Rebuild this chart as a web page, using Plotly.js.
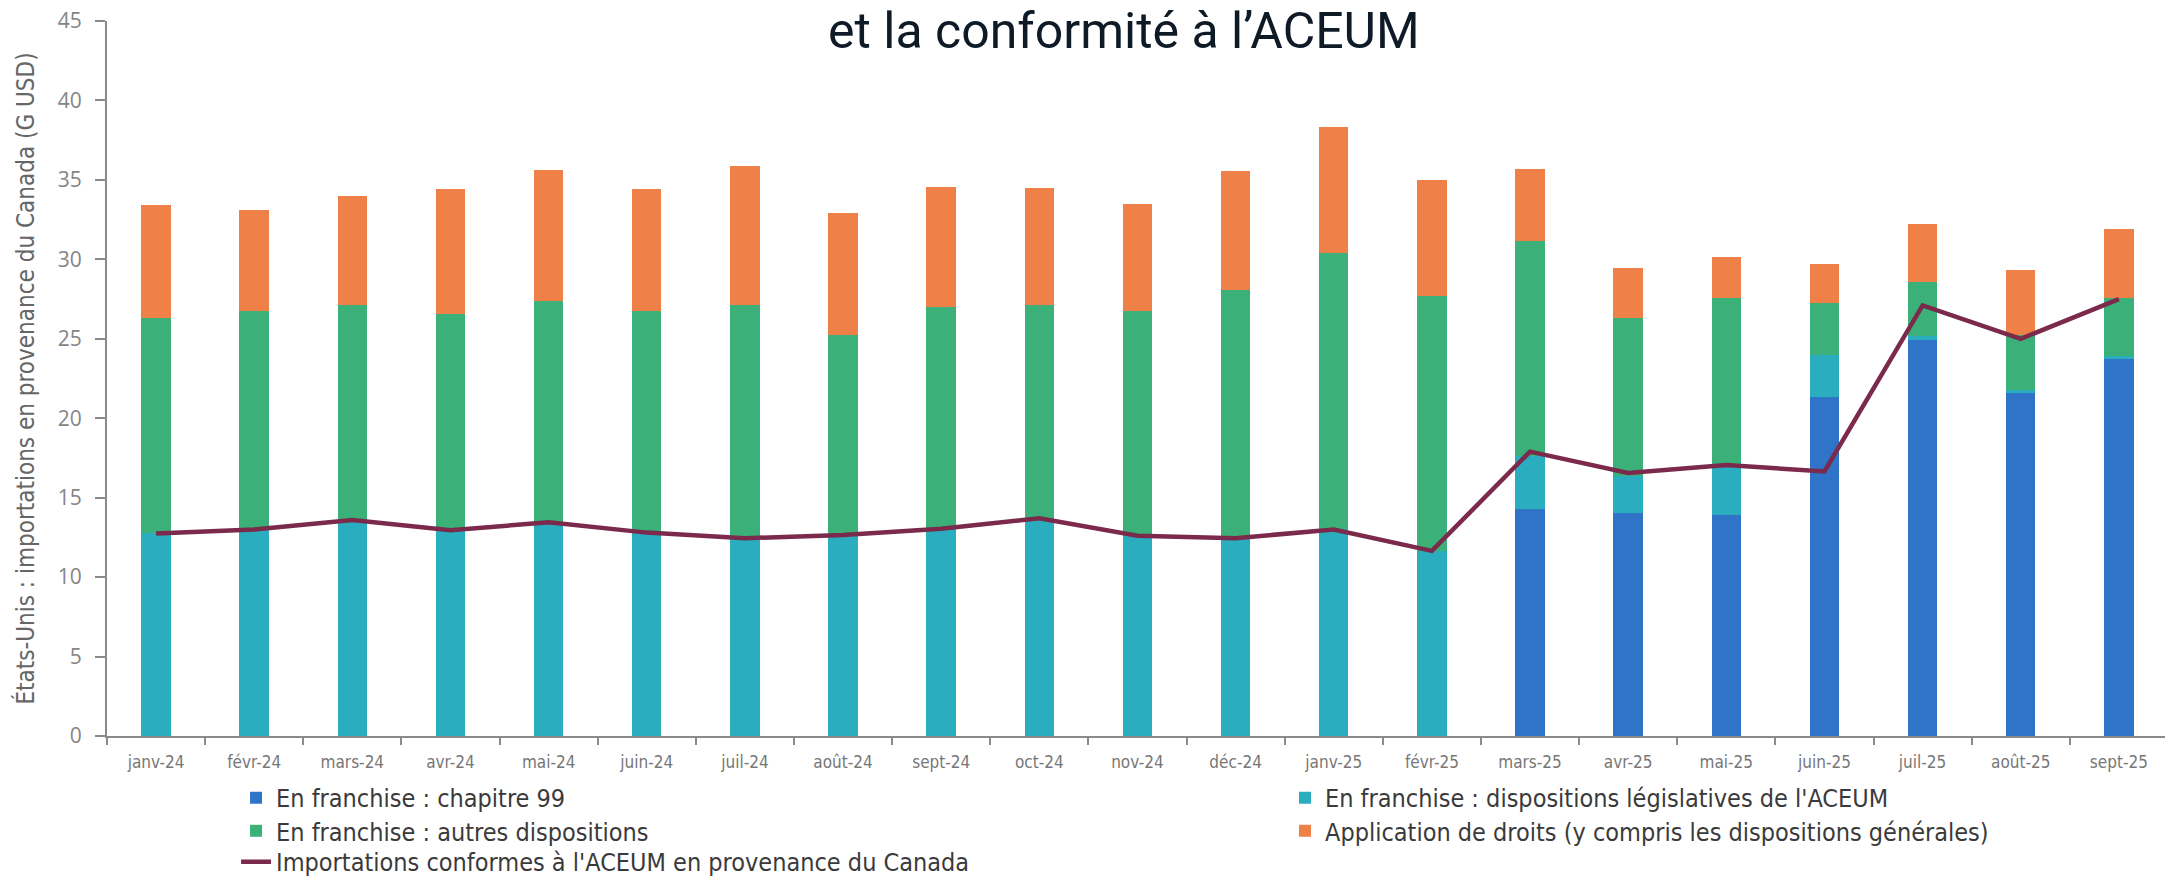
<!DOCTYPE html>
<html>
<head>
<meta charset="utf-8">
<script src="https://cdn.plot.ly/plotly-3.0.1.min.js"></script>
<style>
  html, body { margin: 0; padding: 0; background: #ffffff; }
  #chart { width: 2165px; height: 878px; }
</style>
</head>
<body>
<div id="chart"></div>
<script>
const months = ["janv-24","févr-24","mars-24","avr-24","mai-24","juin-24","juil-24","août-24","sept-24","oct-24","nov-24","déc-24",
                "janv-25","févr-25","mars-25","avr-25","mai-25","juin-25","juil-25","août-25","sept-25"];

const chap99    = [0,0,0,0,0,0,0,0,0,0,0,0,0,0, 14.3,14.05,13.9,21.35,24.9,21.6,23.75];
const aceumLeg  = [12.75,13.0,13.6,12.95,13.45,12.8,12.45,12.65,13.05,13.7,12.6,12.45,13.0,11.65, 3.3,2.3,3.0,2.6,0.25,0.2,0.15];
const autres    = [13.55,13.75,13.5,13.6,13.9,13.95,14.65,12.6,13.95,13.45,14.15,15.65,17.4,16.05, 13.55,9.95,10.65,3.3,3.4,3.45,3.65];
const droits    = [7.1,6.35,6.9,7.85,8.25,7.7,8.8,7.65,7.55,7.35,6.75,7.45,7.95,7.3, 4.55,3.15,2.6,2.45,3.7,4.1,4.35];
const conformes = [12.75,13.0,13.6,12.95,13.45,12.8,12.45,12.65,13.05,13.7,12.6,12.45,13.0,11.65, 17.9,16.55,17.05,16.65,27.1,25.0,27.5];

const names = {
  chap99: "En franchise : chapitre 99",
  aceum: "En franchise : dispositions législatives de l'ACEUM",
  autres: "En franchise : autres dispositions",
  droits: "Application de droits (y compris les dispositions générales)",
  line: "Importations conformes à l'ACEUM en provenance du Canada"
};

const condensed = "'DejaVu Sans Condensed', 'Liberation Sans Narrow', 'Open Sans', sans-serif";
const legFont = {family: condensed, size: 25, color: "#3a3a3a"};

const traces = [
  {type: "bar", x: months, y: chap99, name: names.chap99, marker: {color: "#2f74c6"}, legend: "legend"},
  {type: "bar", x: months, y: aceumLeg, name: names.aceum, marker: {color: "#29adbf"}, legend: "legend2"},
  {type: "bar", x: months, y: autres, name: names.autres, marker: {color: "#3bb179"}, legend: "legend3"},
  {type: "bar", x: months, y: droits, name: names.droits, marker: {color: "#ef8047"}, legend: "legend4"},
  {type: "scatter", mode: "lines", x: months, y: conformes, name: names.line,
   line: {color: "#7b2a4c", width: 4.5}, legend: "legend5"}
];

function leg(x, y) {
  return {orientation: "v", x: x, xanchor: "left", y: y, yanchor: "middle",
          font: legFont, itemwidth: 30, borderwidth: 0, bgcolor: "rgba(0,0,0,0)"};
}

const layout = {
  width: 2165, height: 878,
  margin: {l: 107, r: 0, t: 21, b: 142, autoexpand: false},
  paper_bgcolor: "#ffffff", plot_bgcolor: "#ffffff",
  barmode: "stack",
  bargap: 0.7,
  showlegend: true,
  xaxis: {
    type: "category",
    range: [-0.5, 20.47],
    showline: true, linecolor: "#8a8a8a", linewidth: 2,
    ticks: "outside", tickson: "boundaries", ticklen: 7, tickcolor: "#8a8a8a", tickwidth: 2,
    tickfont: {family: condensed, size: 17, color: "#777777"},
    ticklabelstandoff: 10,
    showgrid: false, zeroline: false, fixedrange: true, automargin: false
  },
  yaxis: {
    range: [0, 45], dtick: 5, tick0: 0,
    showline: true, linecolor: "#8a8a8a", linewidth: 2,
    ticks: "outside", ticklen: 10, tickcolor: "#8a8a8a", tickwidth: 2,
    tickfont: {family: "'Open Sans', sans-serif", size: 21, color: "#858585"},
    ticklabelstandoff: 9,
    showgrid: false, zeroline: false, fixedrange: true, automargin: false,
    title: {
      text: "États-Unis : importations en provenance du Canada (G USD)",
      font: {family: condensed, size: 24, color: "#666666"},
      standoff: 16
    }
  },
  legend:  leg(0.0627, -0.0867),
  legend3: leg(0.0627, -0.1329),
  legend5: leg(0.0627, -0.1762),
  legend2: leg(0.5724, -0.0867),
  legend4: leg(0.5724, -0.1329),
  annotations: [{
    text: "et la conformité à l’ACEUM",
    xref: "paper", yref: "paper",
    x: 0.4944, xanchor: "center",
    y: 1.0294, yanchor: "top",
    showarrow: false,
    font: {family: "'Roboto', sans-serif", size: 50, color: "#0e1a26"}
  }]
};

Plotly.newPlot("chart", traces, layout, {displayModeBar: false, staticPlot: true});
</script>
</body>
</html>
